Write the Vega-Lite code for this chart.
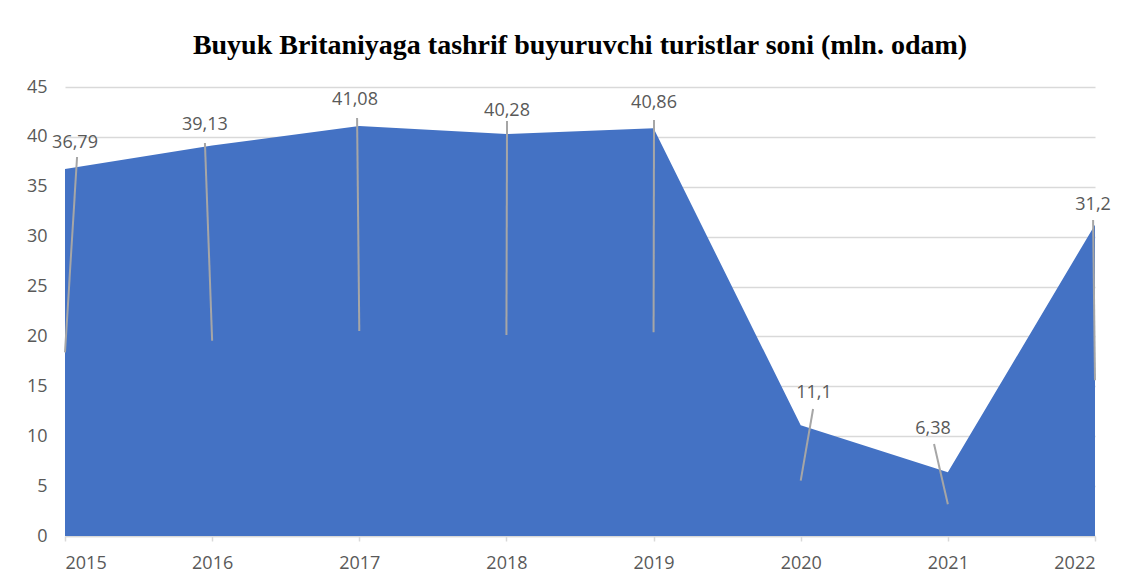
{
  "$schema": "https://vega.github.io/schema/vega-lite/v6.json",
  "autosize": "none",
  "width": 1030,
  "height": 449,
  "padding": {"left": 65, "top": 87, "right": 37, "bottom": 45},
  "background": "white",
  "config": {"view": {"stroke": null}},
  "title": {
    "text": "Buyuk Britaniyaga tashrif buyuruvchi turistlar soni (mln. odam)",
    "font": "Liberation Serif",
    "fontSize": 28,
    "fontWeight": "bold",
    "color": "#000000",
    "anchor": "middle",
    "offset": 18
  },
  "datasets": {
    "main": [
      {"year": 2015, "value": 36.79, "label": "36,79", "label_year": 2015.068, "label_value": 39.39, "lead_year": 2015.082, "lead_value": 37.98, "half": 18.4},
      {"year": 2016, "value": 39.13, "label": "39,13", "label_year": 2015.951, "label_value": 41.19, "lead_year": 2015.951, "lead_value": 39.39, "half": 19.565},
      {"year": 2017, "value": 41.08, "label": "41,08", "label_year": 2016.971, "label_value": 43.7, "lead_year": 2016.985, "lead_value": 41.89, "half": 20.54},
      {"year": 2018, "value": 40.28, "label": "40,28", "label_year": 2018.004, "label_value": 42.59, "lead_year": 2018.004, "lead_value": 41.59, "half": 20.14},
      {"year": 2019, "value": 40.86, "label": "40,86", "label_year": 2019.003, "label_value": 43.4, "lead_year": 2019.003, "lead_value": 41.69, "half": 20.43},
      {"year": 2020, "value": 11.1, "label": "11,1", "label_year": 2020.09, "label_value": 14.33, "lead_year": 2020.084, "lead_value": 12.73, "half": 5.55},
      {"year": 2021, "value": 6.38, "label": "6,38", "label_year": 2020.899, "label_value": 10.72, "lead_year": 2020.906, "lead_value": 9.22, "half": 3.19},
      {"year": 2022, "value": 31.2, "label": "31,2", "label_year": 2021.987, "label_value": 33.17, "lead_year": 2021.987, "lead_value": 31.67, "half": 15.6}
    ]
  },
  "data": {"name": "main"},
  "layer": [
    {
      "mark": {"type": "area", "color": "#4472C4", "opacity": 1},
      "encoding": {
        "x": {
          "field": "year", "type": "quantitative",
          "scale": {"domain": [2015, 2022], "nice": false, "zero": false},
          "axis": {
            "title": null, "values": [2015, 2016, 2017, 2018, 2019, 2020, 2021, 2022],
            "format": "d", "grid": false, "domainColor": "#d9d9d9", "domainWidth": 1.5,
            "tickColor": "#d9d9d9", "tickSize": 5, "tickWidth": 1.5, "labelPadding": 13,
            "labelFont": "Open Sans", "labelFontSize": 18, "labelColor": "#595959"
          }
        },
        "y": {
          "field": "value", "type": "quantitative",
          "scale": {"domain": [0, 45], "nice": false},
          "axis": {
            "title": null, "values": [0, 5, 10, 15, 20, 25, 30, 35, 40, 45],
            "grid": true, "gridColor": "#d9d9d9", "gridWidth": 1.5,
            "domain": false, "ticks": false, "labelPadding": 18,
            "labelFont": "Open Sans", "labelFontSize": 18, "labelColor": "#595959"
          }
        }
      }
    },
    {
      "mark": {"type": "rule", "color": "#a6a6a6", "strokeWidth": 2},
      "encoding": {
        "x": {"field": "lead_year", "type": "quantitative"},
        "y": {"field": "lead_value", "type": "quantitative"},
        "x2": {"field": "year"},
        "y2": {"field": "half"}
      }
    },
    {
      "mark": {"type": "text", "font": "Open Sans", "fontSize": 18, "color": "#595959", "baseline": "middle", "align": "center"},
      "encoding": {
        "x": {"field": "label_year", "type": "quantitative"},
        "y": {"field": "label_value", "type": "quantitative"},
        "text": {"field": "label"}
      }
    }
  ]
}
